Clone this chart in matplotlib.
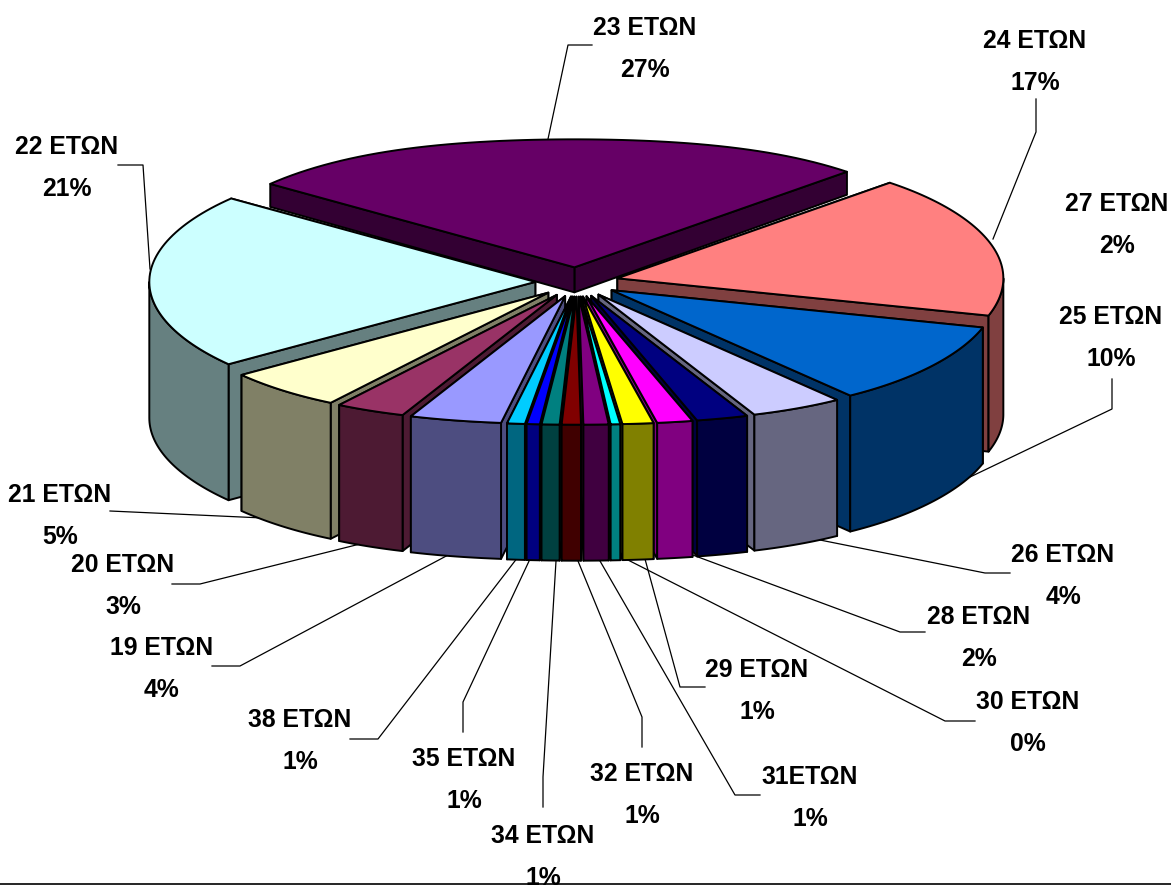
#!/usr/bin/env python3
"""3D exploded pie of ages, drawn back to front as flat polygons."""
import matplotlib
matplotlib.use("Agg")
import matplotlib.pyplot as plt
import numpy as np
from matplotlib.patches import Polygon

ages = ["23 ΕΤΩΝ", "24 ΕΤΩΝ", "25 ΕΤΩΝ", "26 ΕΤΩΝ", "27 ΕΤΩΝ", "28 ΕΤΩΝ", "29 ΕΤΩΝ",
        "30 ΕΤΩΝ", "31ΕΤΩΝ", "32 ΕΤΩΝ", "34 ΕΤΩΝ", "35 ΕΤΩΝ", "38 ΕΤΩΝ", "19 ΕΤΩΝ",
        "20 ΕΤΩΝ", "21 ΕΤΩΝ", "22 ΕΤΩΝ"]
shares = [27, 17, 10, 4, 2.2, 1.5, 1.3, 0.4, 1.05, 0.8, 0.75, 0.55, 0.75, 3.9, 3.0, 5.1, 21]
share_labels = ["27%", "17%", "10%", "4%", "2%", "2%", "1%", "0%", "1%", "1%", "1%",
                "1%", "1%", "4%", "3%", "5%", "21%"]
colors = ["#660066", "#FF8080", "#0066CC", "#CCCCFF", "#000080", "#FF00FF", "#FFFF00",
          "#00FFFF", "#800080", "#800000", "#008080", "#0000FF", "#00CCFF", "#9999FF",
          "#993366", "#FFFFCC", "#CCFFFF"]

# label centres (first line), pixels
label_pos = [(645, 28), (1035, 41), (1111, 317), (1063, 555), (1117, 204), (979, 617),
             (757, 670), (1028, 702), (810, 777), (642, 774), (543, 836), (464, 759),
             (300, 720), (162, 648), (123, 565), (60, 495), (67, 147)]
leaders = [
    [(548, 140), (568, 46), (592, 46)],
    [(993, 240), (1036, 133), (1036, 100)],
    [(945, 490), (1112, 410), (1112, 380)],
    [(805, 538), (985, 574), (1010, 574)],
    None,
    [(690, 555), (900, 633), (925, 633)],
    [(645, 560), (680, 688), (705, 688)],
    [(626, 560), (945, 722), (975, 722)],
    [(600, 562), (735, 796), (760, 796)],
    [(578, 562), (642, 718), (642, 748)],
    [(556, 562), (543, 778), (543, 808)],
    [(530, 560), (463, 703), (463, 733)],
    [(518, 558), (378, 740), (350, 740)],
    [(450, 555), (240, 667), (212, 667)],
    [(372, 542), (200, 585), (172, 585)],
    [(285, 520), (110, 512)],
    [(150, 270), (143, 166), (118, 166)],
]

CX, CY = 577, 283
RX, RY = 386, 136
EXPLODE = 0.108
START = -52.0
WALL = 136
BACK_WALL_RIM = 23
BACK_WALL_APEX = 25
LINE_GAP = 42


def flat(v):
    # front and back of the rim run flatter than a true ellipse
    return RY * v / (1 + 0.0625 * v**6)


def top_point(theta, r, mid):
    t, m = np.radians(theta), np.radians(mid)
    x = CX + RX * (r * np.sin(t) + EXPLODE * np.sin(m))
    y = CY - flat(r * np.cos(t)) - RY * EXPLODE * np.cos(m)
    return np.column_stack([x, y])


fig = plt.figure(figsize=(11.71, 8.87), dpi=100)
ax = fig.add_axes([0, 0, 1, 1])
ax.set_xlim(0, 1171)
ax.set_ylim(887, 0)
ax.axis("off")

fractions = np.array(shares) / sum(shares) * 360
ends = START + np.cumsum(fractions)
starts = ends - fractions
mids = (starts + ends) / 2

order = np.argsort(-np.cos(np.radians(mids)))
for z, i in enumerate(order):
    a0, a1, mid = starts[i], ends[i], mids[i]
    dark = tuple(0.5 * c for c in matplotlib.colors.to_rgb(colors[i]))
    style = dict(edgecolor="black", linewidth=1.4, joinstyle="round", zorder=z + 2)
    wall_out = BACK_WALL_RIM if i == 0 else WALL
    wall_in = BACK_WALL_APEX if i == 0 else WALL

    apex = top_point(a0, 0, mid)[0]
    # higher rim corner first, so the hidden side face never covers the visible one
    rims = sorted((top_point(e, 1, mid)[0] for e in (a0, a1)), key=lambda p: p[1])
    for rim in rims:
        face = [apex, rim, rim + (0, wall_out), apex + (0, wall_in)]
        ax.add_patch(Polygon(face, facecolor=dark, **style))

    # rim wall, only the part facing the viewer
    lo, hi = max(a0, 90), min(a1, 270)
    if hi > lo:
        arc = top_point(np.linspace(lo, hi, 40), 1, mid)
        ax.add_patch(Polygon(np.vstack([arc, (arc + (0, wall_out))[::-1]]),
                             facecolor=dark, **style))

    arc = top_point(np.linspace(a0, a1, 60), 1, mid)
    ax.add_patch(Polygon(np.vstack([apex, arc]), facecolor=colors[i], **style))

for line in leaders:
    if line:
        ax.plot(*zip(*line), color="black", lw=0.9, zorder=1)

font = dict(family=["Liberation Sans"], fontsize=17.8,
            fontweight="bold", ha="center", va="center", color="black", zorder=40)
for age, share, (x, y) in zip(ages, share_labels, label_pos):
    ax.text(x, y, age, **font)
    ax.text(x, y + LINE_GAP, share, **font)

ax.plot([0, 1171], [885.5, 885.5], color="black", lw=1.2, zorder=41)

fig.savefig("out.png", dpi=100, facecolor="white")
